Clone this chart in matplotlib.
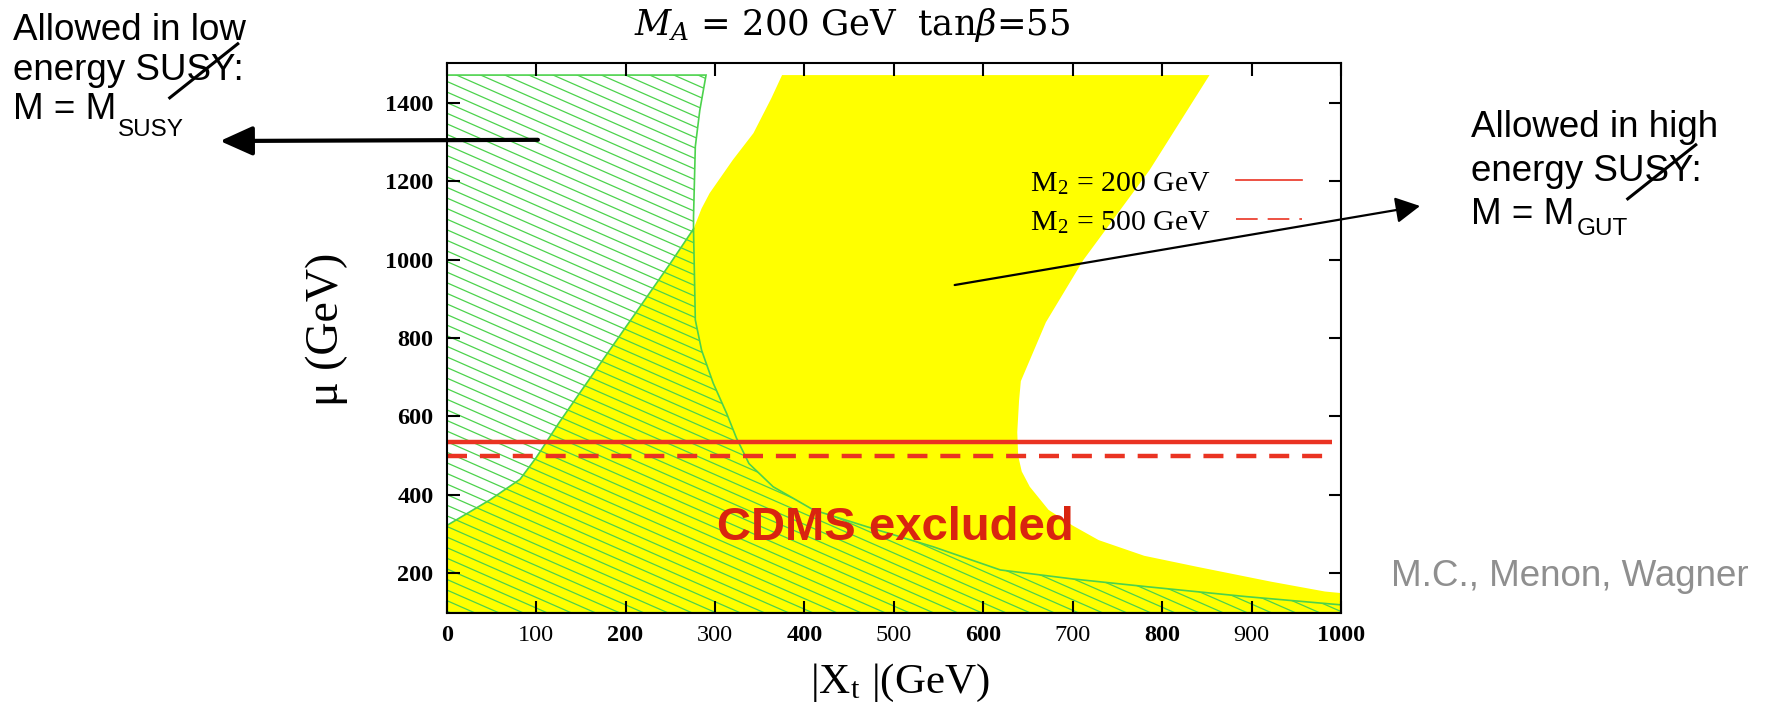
import numpy as np
import matplotlib
matplotlib.use("Agg")
import matplotlib.pyplot as plt
from matplotlib.patches import Polygon
from matplotlib.collections import LineCollection
from matplotlib.lines import Line2D

# ---------------- data ----------------
xt_ticks = [0, 100, 200, 300, 400, 500, 600, 700, 800, 900, 1000]
mu_ticks = [200, 400, 600, 800, 1000, 1200, 1400]

# CDMS-excluded band (yellow): left edge bottom->top, right edge top->bottom
excl_left_x = [0, 48, 82, 100, 125, 150, 200, 250, 276, 285, 294, 320, 343, 363, 375]
excl_left_y = [322, 387, 440, 495, 582, 664, 827, 990, 1078, 1130, 1169, 1254, 1322, 1411, 1470]
excl_right_x = [853, 786, 712, 670, 642, 640, 638, 639, 643, 652, 673, 700, 729, 780, 839, 922, 982, 1000]
excl_right_y = [1470, 1228, 999, 840, 690, 640, 560, 500, 460, 421, 362, 322, 285, 245, 217, 179, 154, 150]

# region allowed for low-energy SUSY (green hatch): right/upper boundary, top->right
low_x = [290, 283, 278, 276, 276, 278, 285, 298, 313, 324, 338, 365, 410, 470, 544, 619, 700, 784, 894, 1000]
low_y = [1470, 1380, 1288, 1109, 1075, 846, 769, 685, 608, 545, 480, 421, 362, 319, 268, 209, 186, 166, 141, 120]

# horizontal mu bounds for the two M2 values
m2_labels = ["M$_\\mathregular{2}$ = 200 GeV", "M$_\\mathregular{2}$ = 500 GeV"]
m2_mu = [535, 500]

XMIN, XMAX, YMIN, YMAX, YTOP = 0, 1000, 100, 1500, 1470

# ---------------- style ----------------
plt.rcParams["mathtext.fontset"] = "stix"
SERIF = "Liberation Serif"
SANS = "Liberation Sans"
YELLOW = "#ffff00"
GREEN = "#4cd24c"
RED = "#ea3322"
NOTE_SIZE = 26.5
SUB_SIZE = 17.5

W, H = 1772, 708
fig = plt.figure(figsize=(W / 100, H / 100), dpi=100)
ax = fig.add_axes([446.7 / W, (H - 612.7) / H, 894.3 / W, 549.4 / H])


def fx(px):
    return px / W


def fy(py):
    return 1 - py / H


# yellow band
band = [(XMIN, YMIN)] + list(zip(excl_left_x, excl_left_y)) + \
       list(zip(excl_right_x, excl_right_y)) + [(XMAX, YMIN)]
ax.add_patch(Polygon(band, closed=True, facecolor=YELLOW, edgecolor="none", zorder=1))

# green hatched region
low_poly = [(XMIN, YMIN), (XMIN, YTOP)] + list(zip(low_x, low_y)) + [(XMAX, YMIN)]
low_patch = Polygon(low_poly, closed=True, facecolor="none", edgecolor=GREEN,
                    lw=1.2, zorder=1.6)
ax.add_patch(low_patch)

# shallow slanted hatch texture, clipped to the green region
step = 27
segs = [[(XMIN - 20, c + 20), (XMAX + 20, c - (XMAX + 20))]
        for c in np.arange(YMIN - 50, YMAX + XMAX + 50, step)]
hatch = LineCollection(segs, colors=GREEN, linewidths=0.9, zorder=1.5)
ax.add_collection(hatch)
hatch.set_clip_path(low_patch)

# edge of the yellow band inside the hatched region
n_join = excl_left_x.index(276) + 1
ax.plot(excl_left_x[:n_join], excl_left_y[:n_join], color=GREEN, lw=1.2, zorder=1.6)

# mu bounds
ax.plot([XMIN, 990], [m2_mu[0]] * 2, color=RED, lw=3.2, solid_capstyle="butt", zorder=2)
ax.plot([XMIN, 990], [m2_mu[1]] * 2, color=RED, lw=3.2, ls=(0, (4.5, 2.9)), zorder=2)

handles = [Line2D([], [], color=RED, lw=1.2),
           Line2D([], [], color=RED, lw=1.2, ls=(0, (13, 6)))]
ax.legend(handles, m2_labels, loc="upper right",
          bbox_to_anchor=((1302 - 446.7) / 894.3, (612.7 - 170) / 549.4),
          markerfirst=False, frameon=False, borderpad=0, borderaxespad=0,
          handlelength=2.2, handletextpad=0.85, labelspacing=0.4,
          prop={"family": SERIF, "size": 21.5})

ax.text(302, 285, "CDMS excluded", color="#d92410", fontsize=34,
        fontweight="bold", family=SANS, va="baseline", zorder=3)

# axes, ticks, labels
ax.set_xlim(XMIN, XMAX)
ax.set_ylim(YMIN, YMAX)
ax.set_xticks(xt_ticks)
ax.set_yticks(mu_ticks)
ax.set_xticklabels([str(v) for v in xt_ticks], family=SERIF, fontsize=17.5)
ax.set_yticklabels([str(v) for v in mu_ticks], family=SERIF, fontsize=17.5,
                   fontweight="bold")
for i, lab in enumerate(ax.get_xticklabels()):
    lab.set_fontweight("bold" if i % 2 == 0 else "normal")
ax.tick_params(axis="both", direction="in", length=9, width=1.5,
               top=True, right=True)
ax.tick_params(axis="x", pad=8.5)
ax.tick_params(axis="y", pad=9.5)
for s in ax.spines.values():
    s.set_linewidth(1.5)
    s.set_zorder(5)
ax.xaxis.set_zorder(5)
ax.yaxis.set_zorder(5)

ax.set_xlabel("|X$_\\mathregular{t}$ |(GeV)", family=SERIF, fontsize=31)
ax.xaxis.set_label_coords(0.507, (612.7 - 693) / 549.4)
ax.xaxis.label.set_va("baseline")
ax.set_ylabel("μ (GeV)", family=SERIF, fontsize=33)
ax.yaxis.set_label_coords(-0.134, 0.515)
ax.yaxis.label.set_va("center")

ax.set_title("$M_A$ = 200 GeV  tan$\\beta$=55", family="DejaVu Serif",
             math_fontfamily="dejavuserif", fontsize=25.5,
             x=(852 - 446.7) / 894.3, y=(612.7 - 35) / 549.4, pad=0,
             va="baseline")

renderer = fig.canvas.get_renderer()


def text_width(s, size):
    probe = fig.text(0, 0, s, family=SANS, fontsize=size)
    w = probe.get_window_extent(renderer).width
    probe.remove()
    return w


def note_with_sub(x_px, base_px, main, sub, drop_px):
    """Side-note line with a lowered, smaller subscript."""
    fig.text(fx(x_px), fy(base_px), main, family=SANS, fontsize=NOTE_SIZE,
             va="baseline")
    x_sub = x_px + text_width(main, NOTE_SIZE) + 2
    fig.text(fx(x_sub), fy(base_px + drop_px), sub, family=SANS,
             fontsize=SUB_SIZE, va="baseline")


def strike(x_px, base_px, prefix, letter):
    """Slash through `letter` that follows `prefix` in a side note."""
    w0 = text_width(prefix, NOTE_SIZE)
    w1 = text_width(prefix + letter, NOTE_SIZE)
    cap = 0.716 * NOTE_SIZE * 100 / 72
    cx = x_px + (w0 + w1) / 2 + 5
    cy = base_px - cap / 2 + 4
    fig.add_artist(Line2D([fx(cx - 34), fx(cx + 34)], [fy(cy + 27), fy(cy - 27)],
                          color="black", lw=2.2))


# side notes
note = dict(family=SANS, fontsize=NOTE_SIZE, va="baseline")
fig.text(fx(13), fy(40), "Allowed in low", **note)
fig.text(fx(13), fy(80), "energy SUSY:", **note)
note_with_sub(13, 119, "M = M", "SUSY", 17)
fig.text(fx(1471), fy(137), "Allowed in high", **note)
fig.text(fx(1471), fy(181), "energy SUSY:", **note)
note_with_sub(1471, 224, "M = M", "GUT", 11)
fig.text(fx(1391), fy(586), "M.C., Menon, Wagner", family=SANS, fontsize=26.5,
         color="#8f8f8f", va="baseline")

strike(13, 80, "energy SU", "S")
strike(1471, 181, "energy SU", "S")

# pointers
ax.annotate("", xy=(fx(220), fy(141)), xycoords="figure fraction",
            xytext=(102, 1305), textcoords="data", annotation_clip=False,
            arrowprops=dict(arrowstyle="-|>,head_length=20,head_width=9",
                            mutation_scale=1, lw=3, color="black",
                            shrinkA=0, shrinkB=0), zorder=6)
ax.annotate("", xy=(fx(1420), fy(206)), xycoords="figure fraction",
            xytext=(568, 935), textcoords="data", annotation_clip=False,
            arrowprops=dict(arrowstyle="-|>,head_length=15,head_width=8",
                            mutation_scale=1, lw=1.6, color="black",
                            shrinkA=0, shrinkB=0), zorder=6)

fig.savefig("out.png", dpi=100)
